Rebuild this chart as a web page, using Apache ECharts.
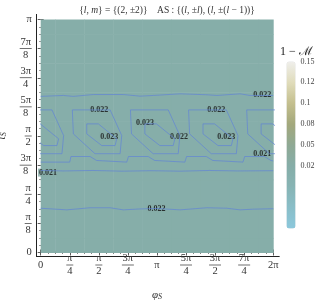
<!DOCTYPE html>
<html><head><meta charset="utf-8">
<script src="https://cdn.jsdelivr.net/npm/echarts@6/dist/echarts.min.js"></script>
<style>html,body{margin:0;padding:0;background:#fff}#c{width:316px;height:301px}</style>
</head><body><div id="c"></div>
<script>
// ---- axis ticks (angles in units of π) ----
const xTicks = [0, 0.25, 0.5, 0.75, 1, 1.25, 1.5, 1.75, 2];
const xTickLabels = ['0', 'π/4', 'π/2', '3π/4', 'π', '5π/4', '3π/2', '7π/4', '2π'];
const yTicks = [0, 0.125, 0.25, 0.375, 0.5, 0.625, 0.75, 0.875, 1];
const yTickLabels = ['0', 'π/8', 'π/4', '3π/8', 'π/2', '5π/8', '3π/4', '7π/8', 'π'];
// colour bar
const cbTicks = [0.025, 0.05, 0.075, 0.1, 0.125, 0.15];
const cbTickLabels = ['0.02', '0.05', '0.08', '0.1', '0.12', '0.15'];
const cbMin = -0.05, cbMax = 0.15;
const cbColors = ['#8cc8dc', '#89bec8', '#87b4b4', '#86ada8', '#8fa994', '#a3a87c', '#c4bf8e', '#e0dcbb', '#efefec'];

// ---- density values on a coarse grid (rows: ι, cols: φ) ----
const phiGrid = [0, 0.25, 0.5, 0.75, 1, 1.25, 1.5, 1.75, 2];
const iotaGrid = [0, 0.125, 0.25, 0.375, 0.5, 0.625, 0.75, 0.875, 1];
const density = [
  [0.0224, 0.0224, 0.0224, 0.0224, 0.0224, 0.0224, 0.0224, 0.0224, 0.0224],
  [0.0223, 0.0223, 0.0223, 0.0223, 0.0223, 0.0223, 0.0223, 0.0223, 0.0223],
  [0.0215, 0.0215, 0.0215, 0.0215, 0.0215, 0.0215, 0.0215, 0.0215, 0.0215],
  [0.0208, 0.0209, 0.0208, 0.0209, 0.0208, 0.0209, 0.0208, 0.0209, 0.0208],
  [0.0231, 0.0217, 0.0232, 0.0217, 0.0232, 0.0217, 0.0232, 0.0217, 0.0231],
  [0.0219, 0.0218, 0.0221, 0.0218, 0.0221, 0.0218, 0.0221, 0.0218, 0.0219],
  [0.0223, 0.0223, 0.0223, 0.0223, 0.0223, 0.0223, 0.0223, 0.0223, 0.0223],
  [0.0224, 0.0224, 0.0224, 0.0224, 0.0224, 0.0224, 0.0224, 0.0224, 0.0224],
  [0.0224, 0.0224, 0.0224, 0.0224, 0.0224, 0.0224, 0.0224, 0.0224, 0.0224]
];

// ---- contour lines: [φ/π, ι/π] ----
const contourTop022 = [[0,0.670],[0.195,0.674],[0.281,0.670],[0.453,0.678],[0.711,0.678],[0.855,0.671],[0.969,0.674],[1.199,0.681],[1.429,0.677],[1.515,0.674],[1.716,0.681],[1.80,0.674],[2,0.674]];
const contourStep021 = [[0,0.388],[0.25,0.388],[0.26,0.412],[0.425,0.412],[0.48,0.395],[0.74,0.388],[0.755,0.412],[0.925,0.412],[0.98,0.395],[1.24,0.388],[1.255,0.412],[1.425,0.412],[1.48,0.395],[1.74,0.388],[1.755,0.412],[1.925,0.412],[1.98,0.395],[2,0.393]];
const contourFlat021 = [[0,0.352],[0.2,0.350],[0.45,0.352],[0.7,0.349],[0.95,0.351],[1.2,0.349],[1.45,0.352],[1.7,0.350],[2,0.351]];
const contourLow022 = [[0,0.190],[0.224,0.183],[0.424,0.192],[0.597,0.192],[0.711,0.183],[0.855,0.187],[1.0,0.189],[1.199,0.183],[1.429,0.192],[1.601,0.190],[1.716,0.183],[1.830,0.186],[2,0.188]];
// loop shapes around φ = π/2 (others are the same shape shifted)
const loopOuter022 = [[0.272,0.612],[0.597,0.612],[0.697,0.502],[0.683,0.424],[0.467,0.424],[0.281,0.509],[0.272,0.612]];
const loopInner023 = [[0.396,0.552],[0.496,0.552],[0.654,0.488],[0.640,0.459],[0.525,0.459],[0.396,0.509],[0.396,0.552]];
const loopShifts = [-0.5, 0, 0.5, 1.0, 1.5];
// contour labels [φ/π, ι/π, text]
const contourLabels = [
  [1.905,0.678,'0.022'],[0.503,0.614,'0.022'],[0.589,0.498,'0.023'],[0.898,0.554,'0.023'],
  [1.19,0.498,'0.022'],[1.51,0.614,'0.022'],[1.597,0.498,'0.023'],[1.905,0.425,'0.021'],
  [0.063,0.343,'0.021'],[0.997,0.189,'0.022']
];

// ---- build ----
const fillCells = [];
iotaGrid.forEach((iy, r) => phiGrid.forEach((px, c) => fillCells.push([px, iy, density[r][c]])));
const dPhi = 0.25, dIota = 0.125;

const tickFont = 'Liberation Serif';
const txt = {fontFamily: tickFont, fontSize: 10.5, color: '#333', lineHeight: 11};
const rich = {
  s: Object.assign({}, txt),
  c: Object.assign({align: 'center'}, txt),
  bn: {width: 7, height: 0.7, lineHeight: 2, backgroundColor: '#333', align: 'center'},
  bw: {width: 12, height: 0.7, lineHeight: 2, backgroundColor: '#333', align: 'center'}
};
function frac(s) {
  if (s.indexOf('/') < 0) return '{s|' + s + '}';
  const [n, d] = s.split('/');
  const k = Math.max(n.length, d.length) > 1 ? 'w' : 'n';
  return '{c|' + n + '}\n{b' + k + '|}\n{c|' + d + '}';
}
function lookup(ticks, labels, v) {
  for (let i = 0; i < ticks.length; i++) if (Math.abs(ticks[i] - v) < 1e-6) return labels[i];
  return '';
}

const G = {left: 40.7, top: 19.5, width: 232.5, height: 233};
const F = {left: 36.5, top: 14.5, width: 242.5, height: 241.5};
const lineColor = '#6284d6';
const series = [
  {type: 'custom', xAxisIndex: 0, yAxisIndex: 0, data: fillCells, silent: true,
   renderItem(params, api) {
     const x = api.value(0), y = api.value(1);
     const x0 = Math.max(0, x - dPhi / 2), x1 = Math.min(2, x + dPhi / 2);
     const y0 = Math.max(0, y - dIota / 2), y1 = Math.min(1, y + dIota / 2);
     const p0 = api.coord([x0, y1]), p1 = api.coord([x1, y0]);
     return {type: 'rect', shape: {x: p0[0], y: p0[1], width: p1[0] - p0[0] + 0.5, height: p1[1] - p0[1] + 0.5},
             style: {fill: api.visual('color')}};
   }}
];
const lines = [contourTop022, contourStep021, contourFlat021, contourLow022];
loopShifts.forEach(s => {
  lines.push(loopOuter022.map(p => [p[0] + s, p[1]]));
  lines.push(loopInner023.map(p => [p[0] + s, p[1]]));
});
lines.forEach(l => series.push({type: 'line', xAxisIndex: 0, yAxisIndex: 0, data: l, showSymbol: false, symbol: 'none',
  clip: true, silent: true, lineStyle: {color: lineColor, width: 0.7}}));
series.push({type: 'scatter', xAxisIndex: 0, yAxisIndex: 0, data: contourLabels, symbolSize: 0, silent: true,
  label: {show: true, position: 'inside', formatter: p => p.value[2], fontFamily: 'Liberation Serif', fontWeight: 'bold',
          fontSize: 8, color: '#111', backgroundColor: '#86ada8', padding: [0, 1]}});

const it = {fontFamily: 'Liberation Serif', fontStyle: 'italic', fontSize: 9.5, color: '#333'};
const noBounds = {outerBoundsMode: 'none', containLabel: false, show: false};
const option = {
  animation: false,
  backgroundColor: '#fff',
  title: {
    text: '{{i|l}, {i|m}} = {(2, ±2)}    AS : {({i|l}, ±{i|l}), ({i|l}, ±({i|l} − 1))}',
    left: 162, top: 0, textAlign: 'center',
    textStyle: {fontFamily: 'Liberation Serif', fontSize: 9.5, fontWeight: 'normal', color: '#333', rich: {i: it}}
  },
  grid: [
    Object.assign({}, noBounds, G),
    Object.assign({}, noBounds, F),
    Object.assign({}, noBounds, {left: 286.5, top: 61.5, width: 9, height: 167})
  ],
  visualMap: {type: 'continuous', min: cbMin, max: cbMax, seriesIndex: 0, show: true, calculable: false,
    left: 286.5, top: 61.5, itemWidth: 9, itemHeight: 167, padding: 0, text: null, showLabel: false,
    inRange: {color: cbColors}, hoverLink: false},
  xAxis: [
    {gridIndex: 0, type: 'value', min: 0, max: 2, interval: 0.25, position: 'bottom', offset: 3.5,
     axisLine: {show: false}, splitLine: {show: false},
     axisTick: {show: true, inside: true, length: 3, lineStyle: {color: '#333', width: 0.8}},
     minorTick: {show: true, splitNumber: 4, length: 1.5, lineStyle: {color: '#333', width: 0.6}},
     axisLabel: {margin: 9, verticalAlign: 'middle', formatter: v => frac(lookup(xTicks, xTickLabels, v)), rich: rich},
     name: '{v|φ}{sub|S}', nameLocation: 'middle', nameGap: 33,
     nameTextStyle: {rich: {v: {fontFamily: 'Liberation Serif', fontStyle: 'italic', fontSize: 11, color: '#333'},
                            sub: {fontFamily: 'Liberation Serif', fontStyle: 'italic', fontSize: 8, color: '#333', padding: [4, 0, 0, 0]}}}},
    {gridIndex: 0, type: 'value', min: 0, max: 2, interval: 0.25, position: 'top', offset: 5,
     axisLine: {show: false}, splitLine: {show: false}, axisLabel: {show: false},
     axisTick: {show: true, inside: true, length: 3, lineStyle: {color: '#333', width: 0.8}},
     minorTick: {show: true, splitNumber: 4, length: 1.5, lineStyle: {color: '#333', width: 0.6}}},
    {gridIndex: 1, type: 'value', min: 0, max: 1, position: 'bottom', axisLine: {show: true, lineStyle: {color: '#222', width: 1}},
     axisTick: {show: false}, axisLabel: {show: false}, splitLine: {show: false}},
    {gridIndex: 1, type: 'value', min: 0, max: 1, position: 'top', axisLine: {show: true, lineStyle: {color: '#222', width: 1}},
     axisTick: {show: false}, axisLabel: {show: false}, splitLine: {show: false}},
    {gridIndex: 2, type: 'category', data: [''], show: false}
  ],
  yAxis: [
    {gridIndex: 0, type: 'value', min: 0, max: 1, interval: 0.125, position: 'left', offset: 4,
     axisLine: {show: false}, splitLine: {show: false},
     axisTick: {show: true, inside: true, length: 3, lineStyle: {color: '#333', width: 0.8}},
     minorTick: {show: true, splitNumber: 4, length: 1.5, lineStyle: {color: '#333', width: 0.6}},
     axisLabel: {margin: 5, formatter: v => frac(lookup(yTicks, yTickLabels, v)), rich: rich},
     name: '{v|ι}{sub|S}', nameLocation: 'middle', nameGap: 29, nameRotate: 90,
     nameTextStyle: {rich: {v: {fontFamily: 'Liberation Serif', fontStyle: 'italic', fontSize: 12, color: '#333'},
                            sub: {fontFamily: 'Liberation Serif', fontStyle: 'italic', fontSize: 8, color: '#333', padding: [4, 0, 0, 0]}}}},
    {gridIndex: 0, type: 'value', min: 0, max: 1, interval: 0.125, position: 'right', offset: 6,
     axisLine: {show: false}, splitLine: {show: false}, axisLabel: {show: false},
     axisTick: {show: true, inside: true, length: 3, lineStyle: {color: '#333', width: 0.8}},
     minorTick: {show: true, splitNumber: 4, length: 1.5, lineStyle: {color: '#333', width: 0.6}}},
    {gridIndex: 1, type: 'value', min: 0, max: 1, position: 'left', axisLine: {show: true, lineStyle: {color: '#222', width: 1}},
     axisTick: {show: false}, axisLabel: {show: false}, splitLine: {show: false}},
    {gridIndex: 1, type: 'value', min: 0, max: 1, position: 'right', axisLine: {show: true, lineStyle: {color: '#222', width: 1}},
     axisTick: {show: false}, axisLabel: {show: false}, splitLine: {show: false}},
    {gridIndex: 2, type: 'value', min: cbMin, max: cbMax, interval: 0.025, position: 'right',
     axisLine: {show: false}, axisTick: {show: false}, splitLine: {show: false},
     axisLabel: {margin: 5, fontFamily: 'Liberation Serif', fontSize: 8, color: '#444',
                 formatter: v => lookup(cbTicks, cbTickLabels, v)}}
  ],
  graphic: [
    {type: 'text', left: 280, top: 46, style: {text: '1 − ℳ', fontFamily: 'Liberation Serif', fontSize: 12, fill: '#222'}}
  ],
  series: series
};
const chart = echarts.init(document.getElementById('c'), null, {renderer: 'canvas'});
chart.setOption(option);
</script></body></html>
